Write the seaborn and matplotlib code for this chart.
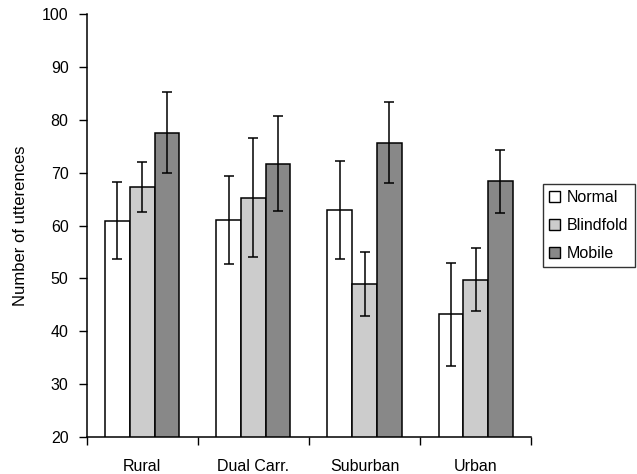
import matplotlib
matplotlib.use("Agg")
import matplotlib.pyplot as plt
from matplotlib.patches import Patch
import seaborn as sns
import pandas as pd

roads = ["Rural", "Dual Carr.", "Suburban", "Urban"]
conditions = ["Normal", "Blindfold", "Mobile"]
normal_mean = [60.9, 61.1, 62.9, 43.2]
blindfold_mean = [67.3, 65.3, 49.0, 49.8]
mobile_mean = [77.6, 71.7, 75.7, 68.4]
normal_err = [7.3, 8.3, 9.3, 9.7]
blindfold_err = [4.8, 11.3, 6.1, 6.0]
mobile_err = [7.6, 9.0, 7.6, 6.0]
colors = ["#ffffff", "#cccccc", "#888888"]
yticks = [20, 30, 40, 50, 60, 70, 80, 90, 100]

means = [normal_mean, blindfold_mean, mobile_mean]
errs = [normal_err, blindfold_err, mobile_err]
df = pd.DataFrame({
    "Road": roads * 3,
    "Condition": sum([[c] * len(roads) for c in conditions], []),
    "Utterances": normal_mean + blindfold_mean + mobile_mean,
})

sns.set_style("white")
plt.rcParams["font.family"] = ["Liberation Sans", "DejaVu Sans"]
plt.rcParams["text.color"] = "black"
plt.rcParams["axes.labelcolor"] = "black"
plt.rcParams["xtick.color"] = "black"
plt.rcParams["ytick.color"] = "black"

fig = plt.figure(figsize=(6.37, 4.74), dpi=100)
ax = fig.add_axes([0.136, 0.078, 0.698, 0.892])

sns.barplot(data=df, x="Road", y="Utterances", hue="Condition", order=roads,
            hue_order=conditions, palette=colors, edgecolor="black",
            linewidth=1.1, width=0.667, gap=0, errorbar=None, legend=False,
            saturation=1, ax=ax)

for cont, m, e in zip(ax.containers, means, errs):
    xs = [b.get_x() + b.get_width() / 2 for b in cont]
    ax.errorbar(xs, m, yerr=e, fmt="none", ecolor="black", elinewidth=1.1,
                capsize=3.5, capthick=1.1)

ax.set_ylim(20, 100)
ax.set_xlim(-0.5, len(roads) - 0.5)
ax.set_yticks(yticks)
ax.set_xticks(range(len(roads)))
ax.set_xticklabels(roads)
ax.set_xticks([i - 0.5 for i in range(len(roads) + 1)], minor=True)
ax.tick_params(axis="x", which="major", length=0, pad=16, labelsize=11.5,
               labelcolor="black")
ax.tick_params(axis="x", which="minor", length=6, width=1, direction="out",
               bottom=True, color="black")
ax.tick_params(axis="y", length=6, width=1, direction="out", left=True,
               pad=7, labelsize=11.5, color="black", labelcolor="black")
ax.set_xlabel("")
ax.set_ylabel("Number of utterences", fontsize=12, labelpad=10, color="black")
for s in ["top", "right"]:
    ax.spines[s].set_visible(False)
for s in ["left", "bottom"]:
    ax.spines[s].set_color("black")
    ax.spines[s].set_linewidth(1.1)

handles = [Patch(facecolor=c, edgecolor="black", linewidth=1) for c in colors]
leg = fig.legend(handles, conditions, loc="upper left",
                 bbox_to_anchor=(0.852, 0.612), frameon=True, fancybox=False,
                 edgecolor="black", fontsize=11.5, handlelength=0.7,
                 handleheight=0.7, handletextpad=0.4, labelspacing=0.8,
                 borderpad=0.4, borderaxespad=0)
leg.get_frame().set_linewidth(1)
for t in leg.get_texts():
    t.set_color("black")

fig.savefig("out.png", dpi=100)
